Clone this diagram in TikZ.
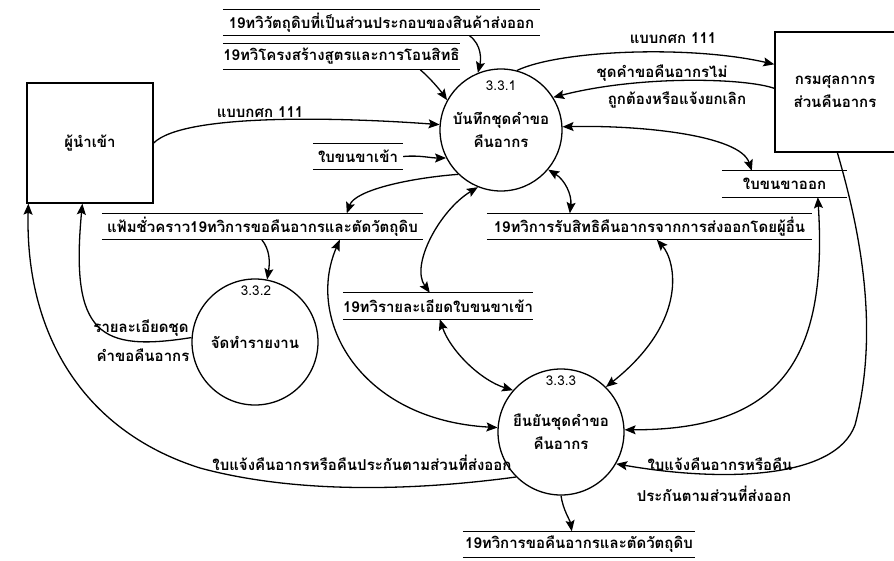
\documentclass[tikz,border=0pt]{standalone}
\usepackage{fontspec}
\setmainfont[Script=Thai]{Loma}
\usetikzlibrary{arrows.meta, calc}

\begin{document}
\begin{tikzpicture}[
  x=1pt, y=-1pt,
  txt/.style={font=\fontsize{15}{23}\selectfont\bfseries, align=center, inner sep=1pt},
  ext/.style={rectangle, draw, line width=1.3pt, minimum width=126pt, minimum height=120pt, txt},
  proc/.style={circle, draw, line width=1.3pt, minimum size=126pt, inner sep=0pt, txt},
  store/.style={txt, minimum height=26pt, inner sep=0pt},
  num/.style={font=\fontsize{13.5}{14}\selectfont, inner sep=0pt},
  flow/.style={-{Stealth[length=11pt,width=9pt,inset=2pt]}, line width=1.3pt},
  flowboth/.style={{Stealth[length=11pt,width=9pt,inset=2pt]}-{Stealth[length=11pt,width=9pt,inset=2pt]}, line width=1.3pt}
]
\useasboundingbox (0,0) rectangle (894,560);
\clip (0,0) rectangle (894,560);
\node[ext] (imp) at (90,143) {ผู้นำเข้า};
\node[ext, minimum width=120pt] (cus) at (835,92) {กรมศุลกากร\\ส่วนคืนอากร};
\node[proc, minimum size=122pt] (p1) at (501,130) {บันทึกชุดคำขอ\\คืนอากร};
\node[proc] (p2) at (255,342) {จัดทำรายงาน};
\node[proc] (p3) at (561,432) {ยืนยันชุดคำขอ\\คืนอากร};
\node[num] (n1) at (501,86) {3.3.1};
\node[num] (n2) at (256,291) {3.3.2};
\node[num] (n3) at (561,381) {3.3.3};
\node[store, minimum width=317pt] (s1) at (381.5,22.5) {19ทวิวัตถุดิบที่เป็นส่วนประกอบของสินค้าส่งออก};
\node[store, minimum width=237pt] (s2) at (341.5,56.5) {19ทวิโครงสร้างสูตรและการโอนสิทธิ};
\node[store, minimum width=90pt] (s3) at (358,156.5) {ใบขนขาเข้า};
\node[store, minimum width=321pt] (s4) at (262.5,226.5) {แฟ้มชั่วคราว19ทวิการขอคืนอากรและตัดวัตถุดิบ};
\node[store, minimum width=125pt] (s5) at (784.5,184) {ใบขนขาออก};
\node[store, minimum width=325pt] (s6) at (649.5,226.5) {19ทวิการรับสิทธิคืนอากรจากการส่งออกโดยผู้อื่น};
\node[store, minimum width=190pt] (s7) at (438,306) {19ทวิรายละเอียดใบขนขาเข้า};
\node[store, minimum width=232pt] (s8) at (579,544.5) {19ทวิการขอคืนอากรและตัดวัตถุดิบ};
\foreach \s in {s1,s2,s3,s4,s5,s6,s7,s8}
  \draw[line width=1.1pt] (\s.north west) -- (\s.north east) (\s.south west) -- (\s.south east);
\node[txt] (l3) at (260,112) {แบบกศก 111};
\node[txt] (l5) at (673,38) {แบบกศก 111};
\node[txt] (l6a) at (662,73) {ชุดคำขอคืนอากรไม่};
\node[txt] (l6b) at (677,100) {ถูกต้องหรือแจ้งยกเลิก};
\node[txt] (l12a) at (141,328) {รายละเอียดชุด};
\node[txt] (l12b) at (143,355) {คำขอคืนอากร};
\node[txt] (l13) at (362,463) {ใบแจ้งคืนอากรหรือคืนประกันตามส่วนที่ส่งออก};
\node[txt] (l18a) at (720,464) {ใบแจ้งคืนอากรหรือคืน};
\node[txt] (l18b) at (714,494) {ประกันตามส่วนที่ส่งออก};
\draw[flow] ($(s1.south)+(88,0)$) .. controls (482,45) and (481,60) .. (p1.112);
\draw[flow] ($(s2.south east)+(-40,0)$) .. controls (430,78) and (440,90) .. (p1.151);
\draw[flow] (imp.east) .. controls (185,112) and (350,118) .. (p1.175);
\draw[flow] (s3.east) .. controls (420,155) and (430,158) .. (p1.207);
\draw[flow] (p1.75) .. controls (560,50) and (690,45) .. ($(cus.north west)+(0,33)$);
\draw[flow] ($(cus.north west)+(0,57)$) .. controls (745,78) and (640,75) .. (p1.32);
\draw[flowboth] (p1.3) .. controls (640,125) and (740,135) .. ($(s5.north west)+(30,0)$);
\draw[flowboth] (p1.-40) .. controls (565,180) and (572,195) .. ($(s6.north west)+(83,0)$);
\draw[flow] (p1.226) .. controls (410,178) and (355,190) .. ($(s4.north west)+(245,0)$);
\draw[flowboth] (p1.248) .. controls (440,210) and (410,265) .. ($(s7.north west)+(87,0)$);
\draw[flow] ($(s4.south west)+(160,0)$) .. controls (270,250) and (270,262) .. (p2.79);
\draw[flow] (p2.176) .. controls (100,352) and (70,335) .. ($(imp.south west)+(56,0)$);
\draw[flow] (p3.225) .. controls (420,490) and (300,495) .. (200,468) .. controls (80,430) and (25,330) .. ($(imp.south west)+(2,0)$);
\draw[flowboth] ($(s4.south west)+(238,0)$) .. controls (305,320) and (360,420) .. (p3.176);
\draw[flowboth] ($(s7.south west)+(97,0)$) .. controls (450,350) and (480,380) .. (p3.139);
\draw[flowboth] ($(s6.south west)+(170,0)$) .. controls (675,260) and (690,320) .. (p3.45);
\draw[flowboth] ($(s5.south west)+(96,0)$) .. controls (828,360) and (780,430) .. (p3.2);
\draw[flow] ($(cus.south west)+(63,0)$) .. controls (860,230) and (880,330) .. (855,425) .. controls (835,480) and (720,482) .. (p3.-30);
\draw[flow] (p3.270) .. controls (563,510) and (570,520) .. ($(s8.north west)+(109,0)$);
\end{tikzpicture}
\end{document}
